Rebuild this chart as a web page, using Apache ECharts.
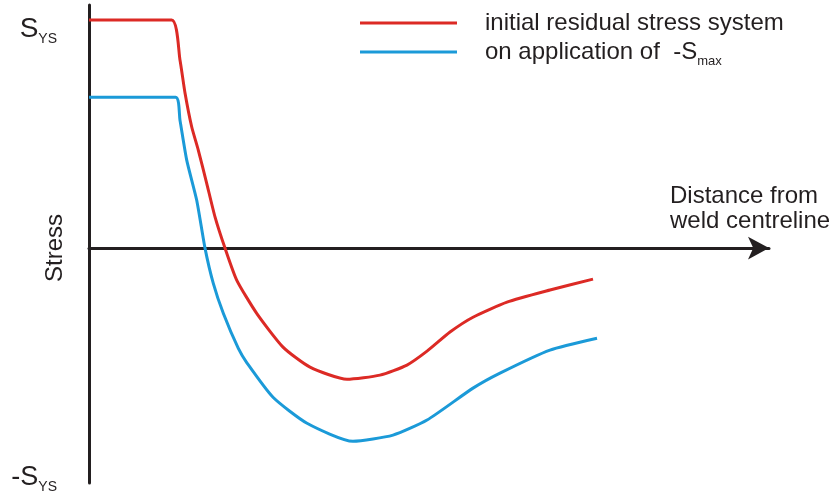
<!DOCTYPE html>
<html>
<head>
<meta charset="utf-8">
<script src="https://cdn.jsdelivr.net/npm/echarts@6/dist/echarts.min.js"></script>
<style>
html,body{margin:0;padding:0;background:#fff;}
#chart{width:832px;height:491px;}
</style>
</head>
<body>
<div id="chart"></div>
<script>
// Distance from weld centreline (arbitrary units) and stress (% of S_YS)
const distRed = [0, 12.16, 13.38, 14.12, 15.10, 16.07, 17.31, 18.53, 20.0, 21.72, 24.66, 28.53, 32.5, 37.94, 42.79, 46.76, 49.71, 53.09, 56.47, 61.47, 67.79, 74.12];
const stressRed = [100, 100, 82.5, 68.0, 53.2, 43.0, 28.4, 13.7, 0, -14.0, -28.6, -43.4, -52.2, -57.5, -55.7, -51.3, -45.2, -36.8, -30.3, -23.7, -18.4, -13.6];
const distBlue = [0, 12.75, 13.38, 14.37, 15.84, 17.06, 18.28, 19.75, 21.96, 23.24, 27.06, 32.06, 38.82, 44.71, 49.71, 56.47, 60.44, 67.79, 74.71];
const stressBlue = [66.1, 66.1, 56.1, 38.6, 21.0, 0, -15.5, -28.6, -44.0, -50.4, -65.4, -76.8, -84.7, -82.0, -75.4, -61.4, -54.8, -44.7, -39.5];
const seriesNames = ['initial residual stress system', 'on application of  -S_max'];
const legendLabels = ['initial residual stress system', 'on application of  -S{sub|max}'];
const yTickValues = [100, -100];
const yTickLabels = ['{st|S}{subt|YS}', '{s|-S}{sub|YS}'];
const xAxisName = 'Distance from\nweld centreline';
const yAxisName = 'Stress';

const FONT = '"Liberation Sans", Arial, Helvetica, sans-serif';
const TXT = '#231f20';
const chart = echarts.init(document.getElementById('chart'), null, {renderer: 'canvas'});

function pairs(xs, ys) { return xs.map((x, i) => [x, ys[i]]); }

chart.setOption({
  animation: false,
  backgroundColor: '#fff',
  textStyle: {fontFamily: FONT},
  grid: {left: 89, right: 63, top: 5, bottom: 8, containLabel: false, outerBoundsMode: 'none'},
  legend: {
    orient: 'vertical',
    left: 360,
    top: 11,
    padding: 0,
    itemWidth: 97,
    itemHeight: 3,
    itemGap: 5,
    icon: 'rect',
    data: seriesNames,
    formatter: function (name) { return legendLabels[seriesNames.indexOf(name)]; },
    textStyle: {
      fontFamily: FONT, fontSize: 24, color: TXT, lineHeight: 24,
      padding: [0, 0, 0, 23],
      rich: {
        sub: {fontFamily: FONT, fontSize: 13, color: TXT, lineHeight: 24, verticalAlign: 'bottom', padding: [0, 0, -4, 0]}
      }
    }
  },
  xAxis: {
    type: 'value',
    min: 0,
    max: 100,
    name: xAxisName,
    nameLocation: 'end',
    nameGap: -99,
    nameMoveOverlap: false,
    nameTextStyle: {
      fontFamily: FONT, fontSize: 24, color: TXT, lineHeight: 25,
      align: 'left', verticalAlign: 'bottom', padding: [0, 0, 14, 0]
    },
    axisLine: {
      show: true, onZero: true,
      symbol: ['none', 'arrow'], symbolSize: [17, 21],
      lineStyle: {color: TXT, width: 3}
    },
    axisTick: {show: false},
    axisLabel: {show: false},
    splitLine: {show: false}
  },
  yAxis: {
    type: 'value',
    min: -103,
    max: 106.6,
    name: yAxisName,
    nameLocation: 'middle',
    nameRotate: 90,
    nameGap: 22,
    nameMoveOverlap: false,
    nameTextStyle: {fontFamily: FONT, fontSize: 24, color: TXT, padding: [0, 8, 0, 0]},
    axisLine: {show: true, lineStyle: {color: TXT, width: 3}},
    axisTick: {show: false},
    splitLine: {show: false},
    axisLabel: {
      show: true,
      customValues: yTickValues,
      margin: 32,
      formatter: function (v) { return yTickLabels[yTickValues.indexOf(v)] || ''; },
      rich: {
        st: {fontFamily: FONT, fontSize: 28, color: TXT, verticalAlign: 'bottom', lineHeight: 46},
        subt: {fontFamily: FONT, fontSize: 14, color: TXT, verticalAlign: 'bottom', lineHeight: 46, padding: [0, 0, -3, 0]},
        s: {fontFamily: FONT, fontSize: 27, color: TXT, verticalAlign: 'bottom', lineHeight: 30},
        sub: {fontFamily: FONT, fontSize: 14, color: TXT, verticalAlign: 'bottom', lineHeight: 30, padding: [0, 0, -3, 0]}
      }
    }
  },
  series: [
    {
      name: seriesNames[0], type: 'line', data: pairs(distRed, stressRed),
      showSymbol: false, symbol: 'none', smooth: 0.2,
      lineStyle: {color: '#dc2a25', width: 3}, itemStyle: {color: '#dc2a25'}
    },
    {
      name: seriesNames[1], type: 'line', data: pairs(distBlue, stressBlue),
      showSymbol: false, symbol: 'none', smooth: 0.2,
      lineStyle: {color: '#1b9ad8', width: 3}, itemStyle: {color: '#1b9ad8'}
    }
  ]
});
</script>
</body>
</html>
